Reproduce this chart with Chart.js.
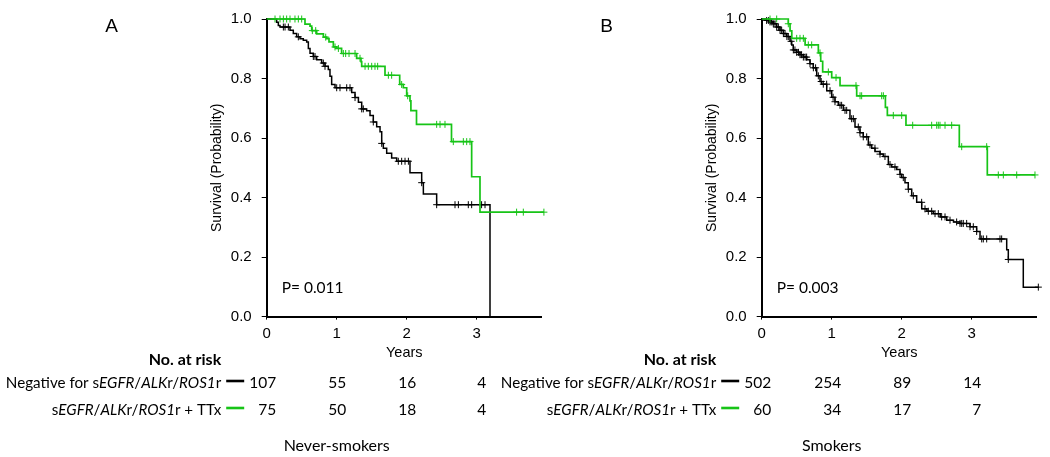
<!DOCTYPE html>
<html>
<head>
<meta charset="utf-8">
<script src="https://cdn.jsdelivr.net/npm/chart.js@4.4.0/dist/chart.umd.min.js"></script>
<style>
html,body{margin:0;padding:0;background:#fff;}
#wrap{position:relative;width:1050px;height:457px;background:#fff;}
#wrap canvas{position:absolute;left:0;top:0;}
</style>
</head>
<body>
<div id="wrap">
<canvas id="cA" width="1050" height="457"></canvas>
<canvas id="cB" width="1050" height="457"></canvas>
</div>
<script>
// ---------------- DATA ----------------
const xTickValues = [0, 1, 2, 3];
const yTickValues = [0, 0.2, 0.4, 0.6, 0.8, 1.0];
const xAxisTitle = 'Years';
const yAxisTitle = 'Survival (Probability)';
const riskHeader = 'No. at risk';

// Row labels (segments: [text, italic])
const negLabel = [['Negative for s', false], ['EGFR', true], ['/', false], ['ALK', true], ['r/', false], ['ROS1', true], ['r', false]];
const ttxLabel = [['s', false], ['EGFR', true], ['/', false], ['ALK', true], ['r/', false], ['ROS1', true], ['r + TTx', false]];

// Panel A: Never-smokers
const aNegTimes = [0, 0.142, 0.166, 0.19, 0.333, 0.38, 0.428, 0.476, 0.523, 0.571, 0.595, 0.619, 0.666, 0.714, 0.785, 0.833, 0.88, 0.904, 0.928, 0.976, 1.214, 1.262, 1.31, 1.357, 1.428, 1.476, 1.523, 1.571, 1.619, 1.643, 1.666, 1.714, 1.785, 1.857, 2.047, 2.214, 2.238, 2.428, 3.19];
const aNegSurv  = [1, 0.989, 0.978, 0.973, 0.962, 0.951, 0.940, 0.934, 0.929, 0.923, 0.901, 0.885, 0.874, 0.863, 0.852, 0.841, 0.830, 0.808, 0.780, 0.769, 0.753, 0.736, 0.720, 0.698, 0.692, 0.676, 0.654, 0.638, 0.621, 0.582, 0.566, 0.549, 0.533, 0.522, 0.483, 0.450, 0.412, 0.376, 0];
const aNegCensor = [0.238, 0.262, 0.309, 0.452, 0.666, 0.690, 0.809, 0.833, 1.0, 1.047, 1.143, 1.19, 1.262, 1.357, 1.38, 1.523, 1.643, 1.88, 1.928, 1.976, 2.024, 2.214, 2.428, 2.69, 2.738, 2.88, 2.928, 3.07, 3.119];

const aTtxTimes = [0, 0.547, 0.619, 0.643, 0.714, 0.81, 0.857, 0.89, 0.952, 1.0, 1.07, 1.285, 1.347, 1.357, 1.69, 1.90, 1.952, 2.0, 2.047, 2.06, 2.14, 2.64, 2.928, 3.047, 3.96];
const aTtxSurv  = [1, 0.983, 0.976, 0.961, 0.950, 0.939, 0.934, 0.923, 0.906, 0.901, 0.884, 0.868, 0.857, 0.841, 0.811, 0.780, 0.769, 0.742, 0.725, 0.692, 0.646, 0.588, 0.470, 0.351, 0.351];
const aTtxCensor = [0.119, 0.19, 0.238, 0.285, 0.333, 0.404, 0.452, 0.5, 0.652, 0.7, 0.843, 0.976, 1.024, 1.095, 1.128, 1.176, 1.262, 1.333, 1.405, 1.452, 1.5, 1.547, 1.585, 1.738, 1.785, 1.928, 2.014, 2.428, 2.476, 2.547, 2.666, 2.809, 2.857, 2.904, 3.57, 3.666, 3.96];

const aRiskNeg = [107, 55, 16, 4];
const aRiskTtx = [75, 50, 18, 4];

// Panel B: Smokers
const bNegTimes = [0, 0.071, 0.119, 0.166, 0.214, 0.261, 0.309, 0.357, 0.404, 0.429, 0.451, 0.5, 0.547, 0.595, 0.643, 0.69, 0.737, 0.786, 0.833, 0.857, 0.929, 1.0, 1.047, 1.094, 1.166, 1.261, 1.333, 1.404, 1.451, 1.523, 1.571, 1.619, 1.69, 1.737, 1.809, 1.857, 1.929, 1.976, 2.0, 2.047, 2.094, 2.143, 2.214, 2.286, 2.36, 2.451, 2.55, 2.643, 2.74, 2.833, 2.976, 3.071, 3.119, 3.5, 3.523, 3.737, 3.952];
const bNegSurv  = [1, 0.995, 0.99, 0.984, 0.973, 0.962, 0.951, 0.941, 0.925, 0.913, 0.896, 0.888, 0.880, 0.872, 0.863, 0.850, 0.836, 0.809, 0.790, 0.781, 0.759, 0.737, 0.722, 0.710, 0.693, 0.665, 0.637, 0.618, 0.604, 0.577, 0.566, 0.555, 0.546, 0.538, 0.511, 0.503, 0.494, 0.478, 0.467, 0.450, 0.428, 0.406, 0.384, 0.362, 0.354, 0.346, 0.335, 0.324, 0.318, 0.313, 0.302, 0.286, 0.261, 0.225, 0.192, 0.099, 0.099];
const bNegCensor = [0.071, 0.1, 0.119, 0.145, 0.166, 0.19, 0.214, 0.238, 0.262, 0.285, 0.31, 0.333, 0.36, 0.38, 0.42, 0.452, 0.475, 0.5, 0.525, 0.547, 0.57, 0.595, 0.62, 0.642, 0.69, 0.738, 0.77, 0.809, 0.85, 0.88, 0.928, 0.976, 1.02, 1.047, 1.119, 1.142, 1.19, 1.214, 1.285, 1.309, 1.38, 1.404, 1.451, 1.5, 1.547, 1.618, 1.69, 1.761, 1.833, 1.904, 1.976, 2.023, 2.095, 2.166, 2.285, 2.333, 2.38, 2.428, 2.476, 2.523, 2.571, 2.619, 2.69, 2.785, 2.833, 2.857, 2.88, 2.928, 2.976, 3.023, 3.071, 3.143, 3.166, 3.214, 3.404, 3.428, 3.523, 3.952];

const bTtxTimes = [0, 0.38, 0.405, 0.43, 0.62, 0.809, 0.843, 0.871, 1.0, 1.119, 1.357, 1.767, 1.795, 2.061, 2.823, 3.223, 3.904];
const bTtxSurv  = [1, 0.984, 0.960, 0.935, 0.913, 0.886, 0.858, 0.822, 0.803, 0.776, 0.742, 0.703, 0.676, 0.643, 0.571, 0.476, 0.476];
const bTtxCensor = [0.119, 0.214, 0.38, 0.5, 0.547, 0.595, 0.666, 0.714, 0.833, 0.952, 1.062, 1.347, 1.405, 1.428, 1.714, 1.738, 1.88, 2.0, 2.157, 2.428, 2.5, 2.523, 2.547, 2.619, 2.714, 2.857, 3.214, 3.38, 3.452, 3.643, 3.904];

const bRiskNeg = [502, 254, 89, 14];
const bRiskTtx = [60, 34, 17, 7];

// ---------------- STYLE ----------------
const BLACK = '#000000';
const GREEN = '#17c417';
const AXIS_FONT = '"Liberation Sans", Arial, sans-serif';
const TABLE_FONT = 'Lato, "Open Sans", sans-serif';
const X_MAX = 3.93;

Chart.defaults.font.family = AXIS_FONT;
Chart.defaults.color = '#000';

function stepPoints(times, surv) {
  return times.map((t, i) => ({x: t, y: surv[i]}));
}
function survAt(times, surv, t) {
  let v = surv[0];
  for (let i = 0; i < times.length; i++) { if (times[i] <= t) v = surv[i]; }
  return v;
}
function censorPoints(cens, times, surv) {
  return cens.map(t => ({x: t, y: survAt(times, surv, t)}));
}

function drawRich(ctx, segs, rightX, y, size) {
  const fonts = segs.map(s => (s[1] ? 'italic ' : '') + size + 'px ' + TABLE_FONT);
  let total = 0;
  const widths = segs.map((s, i) => { ctx.font = fonts[i]; const w = ctx.measureText(s[0]).width; total += w; return w; });
  let x = rightX - total;
  ctx.textAlign = 'left';
  segs.forEach((s, i) => { ctx.font = fonts[i]; ctx.fillText(s[0], x, y); x += widths[i]; });
}

const annotate = {
  id: 'annotate',
  afterDraw(chart, args, o) {
    const ctx = chart.ctx, xs = chart.scales.x, ca = chart.chartArea;
    ctx.save();
    ctx.fillStyle = '#000';
    ctx.textBaseline = 'middle';
    // panel letter
    ctx.font = '19px ' + AXIS_FONT;
    ctx.textAlign = 'center';
    ctx.fillText(o.letter, ca.left - 155, 27);
    // p value
    ctx.font = '15.5px ' + TABLE_FONT;
    ctx.textAlign = 'left';
    ctx.fillText(o.pText, ca.left + 15, 288);
    // risk table
    const tr = ca.left - 45.5;
    ctx.font = 'bold 16px ' + TABLE_FONT;
    ctx.textAlign = 'right';
    ctx.fillText(riskHeader, tr, 360);
    const rowY = [383, 410];
    o.rows.forEach((row, r) => {
      const y = rowY[r];
      drawRich(ctx, row.label, tr, y, 15.2);
      ctx.strokeStyle = row.color;
      ctx.lineWidth = 2.6;
      ctx.beginPath();
      ctx.moveTo(tr + 5, y - 2);
      ctx.lineTo(tr + 23, y - 2);
      ctx.stroke();
      ctx.font = '15.5px ' + TABLE_FONT;
      ctx.textAlign = 'right';
      row.values.forEach((v, i) => {
        ctx.fillText(String(v), xs.getPixelForValue(xTickValues[i]) + 9.5, y);
      });
    });
    // caption
    ctx.font = '16px ' + TABLE_FONT;
    ctx.textAlign = 'center';
    ctx.fillText(o.caption, xs.getPixelForValue(1), 446);
    ctx.restore();
  }
};

function makePanel(id, plotLeft, panel) {
  const yW = 58.4, xH = 44.8;
  const plotTop = 13.3, plotBottom = 316.6, plotW = 275.1;
  new Chart(document.getElementById(id), {
    type: 'line',
    data: {
      datasets: [
        {data: censorPoints(panel.ttxCensor, panel.ttxTimes, panel.ttxSurv), showLine: false, pointStyle: 'cross', pointRadius: 3.5, pointBorderWidth: 1, borderColor: GREEN, backgroundColor: GREEN, clip: false},
        {data: stepPoints(panel.ttxTimes, panel.ttxSurv), stepped: true, borderColor: GREEN, borderWidth: 1.7, pointRadius: 0, fill: false, clip: false},
        {data: censorPoints(panel.negCensor, panel.negTimes, panel.negSurv), showLine: false, pointStyle: 'cross', pointRadius: 3.5, pointBorderWidth: 1, borderColor: BLACK, backgroundColor: BLACK, clip: false},
        {data: stepPoints(panel.negTimes, panel.negSurv), stepped: true, borderColor: BLACK, borderWidth: 1.5, pointRadius: 0, fill: false, clip: false}
      ]
    },
    options: {
      responsive: false,
      devicePixelRatio: 1,
      animation: false,
      events: [],
      layout: {padding: {left: plotLeft - yW, top: plotTop, right: 1050 - plotLeft - plotW, bottom: 457 - plotBottom - xH}},
      plugins: {legend: {display: false}, tooltip: {enabled: false}, annotate: panel.annot},
      scales: {
        x: {
          type: 'linear', min: 0, max: X_MAX,
          afterBuildTicks: s => { s.ticks = xTickValues.map(v => ({value: v})); },
          afterFit: s => { s.height = xH; },
          ticks: {font: {size: 15}, color: '#000', padding: 5, callback: v => String(v)},
          grid: {drawOnChartArea: false, drawTicks: true, tickLength: 3, color: '#000', lineWidth: 1},
          border: {display: true, color: '#000', width: 2},
          title: {display: true, text: xAxisTitle, font: {size: 14.5, lineHeight: 1.2}, color: '#000', padding: 0}
        },
        y: {
          type: 'linear', min: 0, max: 1,
          afterBuildTicks: s => { s.ticks = yTickValues.map(v => ({value: v})); },
          afterFit: s => { s.width = yW; },
          ticks: {font: {size: 15}, color: '#000', padding: 10, callback: v => v.toFixed(1)},
          grid: {drawOnChartArea: false, drawTicks: true, tickLength: 5, color: '#000', lineWidth: 1},
          border: {display: true, color: '#000', width: 2},
          title: {display: true, text: yAxisTitle, font: {size: 14, lineHeight: 1.2}, color: '#000', padding: 0}
        }
      }
    },
    plugins: [annotate]
  });
}

makePanel('cA', 266.7, {
  negTimes: aNegTimes, negSurv: aNegSurv, negCensor: aNegCensor,
  ttxTimes: aTtxTimes, ttxSurv: aTtxSurv, ttxCensor: aTtxCensor,
  annot: {letter: 'A', pText: 'P= 0.011', caption: 'Never-smokers',
    rows: [{label: negLabel, color: BLACK, values: aRiskNeg}, {label: ttxLabel, color: GREEN, values: aRiskTtx}]}
});
makePanel('cB', 761.7, {
  negTimes: bNegTimes, negSurv: bNegSurv, negCensor: bNegCensor,
  ttxTimes: bTtxTimes, ttxSurv: bTtxSurv, ttxCensor: bTtxCensor,
  annot: {letter: 'B', pText: 'P= 0.003', caption: 'Smokers',
    rows: [{label: negLabel, color: BLACK, values: bRiskNeg}, {label: ttxLabel, color: GREEN, values: bRiskTtx}]}
});
</script>
</body>
</html>
